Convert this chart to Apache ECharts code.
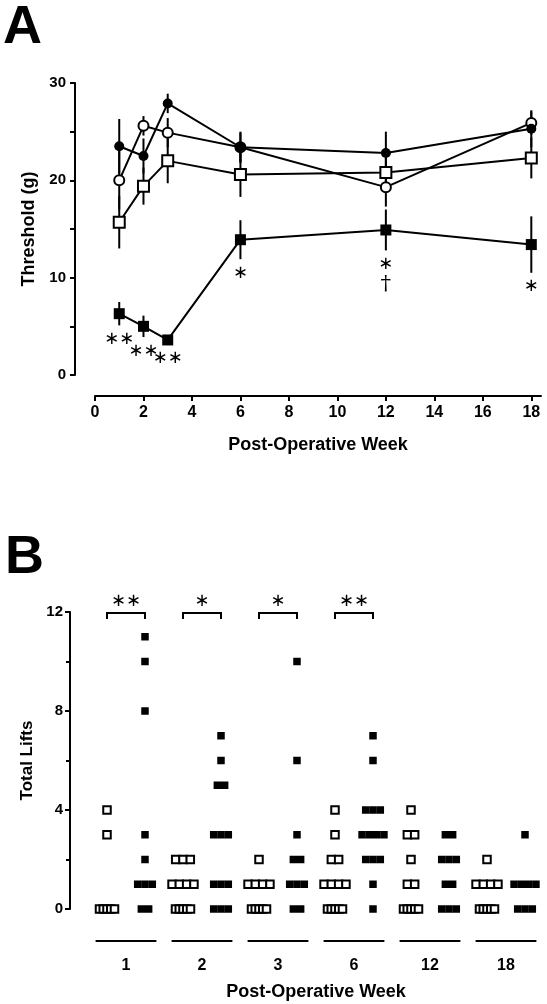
<!DOCTYPE html>
<html>
<head>
<meta charset="utf-8">
<script src="https://cdn.jsdelivr.net/npm/echarts@6/dist/echarts.min.js"></script>
<style>html,body{margin:0;padding:0;background:#fff}#c{width:547px;height:1004px}</style>
</head>
<body>
<div id="c"></div>
<script>
// ---------- Panel A data ----------
const weeks = [1, 2, 3, 6, 12, 18];
const xTicksA = [0, 2, 4, 6, 8, 10, 12, 14, 16, 18];
const circleFilledMean = [23.5, 22.5, 27.9, 23.4, 22.8, 25.3];
const circleFilledSem  = [2.8, 1.8, 1.0, 1.6, 2.2, 1.9];
const circleOpenMean   = [20.0, 25.6, 24.9, 23.4, 19.3, 25.9];
const circleOpenSem    = [3.0, 1.0, 1.5, 1.5, 2.0, 1.2];
const squareOpenMean   = [15.7, 19.4, 22.0, 20.6, 20.8, 22.3];
const squareOpenSem    = [2.7, 1.9, 2.3, 2.3, 1.5, 2.1];
const squareFilledMean = [6.3, 5.0, 3.6, 13.9, 14.9, 13.4];
const squareFilledSem  = [1.2, 1.1, 0.5, 2.0, 2.1, 2.9];
const sigStarsA  = ['**', '**', '**', '*', '*', '*'];
const sigDaggerA = ['', '', '', '', '\u2020', ''];

// ---------- Panel B data ----------
const weekLabelsB = ['1', '2', '3', '6', '12', '18'];
const openLifts = [
  [4, 3, 0, 0, 0, 0, 0],
  [2, 2, 2, 1, 1, 1, 1, 0, 0, 0, 0, 0],
  [2, 1, 1, 1, 1, 0, 0, 0, 0, 0],
  [4, 3, 2, 2, 1, 1, 1, 1, 0, 0, 0, 0, 0],
  [4, 3, 3, 2, 1, 1, 0, 0, 0, 0, 0],
  [2, 1, 1, 1, 1, 0, 0, 0, 0, 0]
];
const filledLifts = [
  [11, 10, 8, 3, 2, 1, 1, 1, 0, 0],
  [7, 6, 5, 5, 3, 3, 3, 1, 1, 1, 0, 0, 0],
  [10, 6, 3, 2, 2, 1, 1, 1, 0, 0],
  [7, 6, 4, 4, 4, 3, 3, 3, 3, 2, 2, 2, 1, 0],
  [3, 3, 2, 2, 2, 1, 1, 0, 0, 0],
  [3, 1, 1, 1, 1, 0, 0, 0]
];
const sigStarsB = ['**', '*', '*', '**', '', ''];

// ---------- layout helpers ----------
const FONT = "'Liberation Sans', Arial, sans-serif";
const BAND_PX = 76;          // pixel width of one week group in panel B
const COL_OFF = 0.25;        // open column left, filled column right of group centre

function spread(lists, side) {
  const pts = [];
  lists.forEach((vals, g) => {
    const counts = {};
    vals.forEach(v => { counts[v] = (counts[v] || 0) + 1; });
    Object.keys(counts).forEach(k => {
      const n = counts[k];
      const step = n <= 4 ? 7.3 : 15 / (n - 1);
      for (let j = 0; j < n; j++) {
        const offPx = (j - (n - 1) / 2) * step;
        pts.push([g + side * COL_OFF + offPx / BAND_PX, Number(k)]);
      }
    });
  });
  return pts;
}

const errData = [];
[[circleFilledMean, circleFilledSem], [circleOpenMean, circleOpenSem],
 [squareOpenMean, squareOpenSem], [squareFilledMean, squareFilledSem]].forEach(([m, s]) => {
  weeks.forEach((w, i) => errData.push([w, m[i], s[i]]));
});

const annA = weeks.map((w, i) => [w, squareFilledMean[i] - squareFilledSem[i], sigStarsA[i], sigDaggerA[i]]);
const bracketB = sigStarsB.map((s, g) => [g, 12, s]).filter(d => d[2]);

const black = '#000';
const STAR_FONT = "18px 'DejaVu Sans'";
const lineSeries = (mean, symbol, size, fill) => ({
  type: 'line', xAxisIndex: 0, yAxisIndex: 0,
  data: weeks.map((w, i) => [w, mean[i]]),
  symbol: symbol, symbolSize: size, showAllSymbol: true,
  itemStyle: { color: fill, borderColor: black, borderWidth: fill === black ? 0 : 2, opacity: 1 },
  lineStyle: { color: black, width: 2 },
  emphasis: { disabled: true }, z: 3
});

const chart = echarts.init(document.getElementById('c'));
chart.setOption({
  animation: false,
  textStyle: { fontFamily: FONT, color: black },
  graphic: [
    { type: 'text', left: 3, top: 1, style: { text: 'A', font: "bold 54px 'Liberation Sans', Arial", fill: black } },
    { type: 'text', left: 5, top: 531, style: { text: 'B', font: "bold 54px 'Liberation Sans', Arial", fill: black } }
  ],
  grid: [
    { left: 95, top: 83, width: 446, height: 292 },
    { left: 88, top: 612, width: 456, height: 297 }
  ],
  xAxis: [
    {
      gridIndex: 0, type: 'value', min: 0, max: 18.4, offset: 21,
      axisLine: { show: true, onZero: false, lineStyle: { color: black, width: 2 } },
      axisTick: { show: true, length: 5, lineStyle: { color: black, width: 2 }, customValues: xTicksA },
      axisLabel: { customValues: xTicksA, color: black, fontSize: 16, fontWeight: 'bold', margin: 9, fontFamily: FONT },
      splitLine: { show: false },
      name: 'Post-Operative Week', nameLocation: 'middle', nameGap: 40,
      nameTextStyle: { color: black, fontSize: 18, fontWeight: 'bold', fontFamily: FONT }
    },
    { gridIndex: 1, type: 'value', min: -0.5, max: 5.5, show: false, axisLine: { onZero: false } },
    {
      gridIndex: 1, type: 'category', data: weekLabelsB, boundaryGap: true, position: 'bottom',
      axisLine: { show: false, onZero: false }, axisTick: { show: false },
      axisLabel: { color: black, fontSize: 16, fontWeight: 'bold', margin: 49, fontFamily: FONT },
      splitLine: { show: false },
      name: 'Post-Operative Week', nameLocation: 'middle', nameGap: 74,
      nameTextStyle: { color: black, fontSize: 18, fontWeight: 'bold', fontFamily: FONT }
    }
  ],
  yAxis: [
    {
      gridIndex: 0, type: 'value', min: 0, max: 30, interval: 10, offset: 20,
      axisLine: { show: true, onZero: false, lineStyle: { color: black, width: 2 } },
      axisTick: { show: true, length: 5, lineStyle: { color: black, width: 2 } },
      minorTick: { show: true, splitNumber: 2, length: 5, lineStyle: { color: black, width: 2 } },
      axisLabel: { color: black, fontSize: 15, fontWeight: 'bold', margin: 9, fontFamily: FONT },
      splitLine: { show: false }, minorSplitLine: { show: false },
      name: 'Threshold (g)', nameLocation: 'middle', nameGap: 36, nameRotate: 90,
      nameTextStyle: { color: black, fontSize: 18, fontWeight: 'bold', fontFamily: FONT }
    },
    {
      gridIndex: 1, type: 'value', min: 0, max: 12, interval: 4, offset: 18,
      axisLine: { show: true, onZero: false, lineStyle: { color: black, width: 2 } },
      axisTick: { show: true, length: 5, lineStyle: { color: black, width: 2 } },
      minorTick: { show: true, splitNumber: 2, length: 4, lineStyle: { color: black, width: 2 } },
      axisLabel: { color: black, fontSize: 15, fontWeight: 'bold', margin: 7, fontFamily: FONT },
      splitLine: { show: false }, minorSplitLine: { show: false },
      name: 'Total Lifts', nameLocation: 'middle', nameGap: 34, nameRotate: 90,
      nameTextStyle: { color: black, fontSize: 17, fontWeight: 'bold', fontFamily: FONT }
    }
  ],
  series: [
    {
      type: 'custom', xAxisIndex: 0, yAxisIndex: 0, data: errData, z: 2, clip: false,
      renderItem: (params, api) => {
        const x = api.value(0), m = api.value(1), s = api.value(2);
        const p1 = api.coord([x, m - s]), p2 = api.coord([x, m + s]);
        return { type: 'line', shape: { x1: p1[0], y1: p1[1], x2: p2[0], y2: p2[1] },
                 style: { stroke: black, lineWidth: 2 } };
      }
    },
    lineSeries(circleOpenMean, 'circle', 10, '#fff'),
    lineSeries(squareOpenMean, 'rect', 11, '#fff'),
    lineSeries(circleFilledMean, 'circle', 10, black),
    lineSeries(squareFilledMean, 'rect', 11, black),
    {
      type: 'custom', xAxisIndex: 0, yAxisIndex: 0, data: annA, z: 5, clip: false,
      renderItem: (params, api) => {
        const p = api.coord([api.value(0), api.value(1)]);
        const d = annA[params.dataIndex];
        const children = [{ type: 'text', x: p[0], y: p[1] + 14,
          style: { text: d[2].replace(/\*/g, '\u2217'), font: STAR_FONT, fill: black, align: 'center', verticalAlign: 'middle' } }];
        if (d[3]) children.push({ type: 'text', x: p[0], y: p[1] + 34,
          style: { text: d[3], font: "21px 'DejaVu Serif'", fill: black, align: 'center', verticalAlign: 'middle' } });
        return { type: 'group', children: children };
      }
    },
    // ---------- Panel B ----------
    {
      type: 'scatter', xAxisIndex: 1, yAxisIndex: 1, data: spread(openLifts, -1), clip: false,
      symbol: 'rect', symbolSize: 7.5,
      itemStyle: { color: '#fff', borderColor: black, borderWidth: 2, opacity: 1 }, emphasis: { disabled: true }
    },
    {
      type: 'scatter', xAxisIndex: 1, yAxisIndex: 1, data: spread(filledLifts, 1), clip: false,
      symbol: 'rect', symbolSize: 7.5,
      itemStyle: { color: black, opacity: 1 }, emphasis: { disabled: true }
    },
    {
      type: 'custom', xAxisIndex: 1, yAxisIndex: 1, clip: false,
      data: weekLabelsB.map((l, g) => [g, 0]),
      renderItem: (params, api) => {
        const g = api.value(0);
        const a = api.coord([g - 0.4, 0]), b = api.coord([g + 0.4, 0]);
        return { type: 'line', shape: { x1: a[0], y1: a[1] + 32, x2: b[0], y2: b[1] + 32 },
                 style: { stroke: black, lineWidth: 2 } };
      }
    },
    {
      type: 'custom', xAxisIndex: 1, yAxisIndex: 1, clip: false,
      data: bracketB,
      renderItem: (params, api) => {
        const g = api.value(0);
        const d = bracketB[params.dataIndex];
        const a = api.coord([g - COL_OFF, 12]), b = api.coord([g + COL_OFF, 12]);
        const y = a[1] + 1;
        return { type: 'group', children: [
          { type: 'polyline', shape: { points: [[a[0], y + 6], [a[0], y], [b[0], y], [b[0], y + 6]] },
            style: { stroke: black, lineWidth: 2, fill: null } },
          { type: 'text', x: (a[0] + b[0]) / 2, y: y - 12,
            style: { text: d[2].replace(/\*/g, '\u2217'), font: STAR_FONT, fill: black, align: 'center', verticalAlign: 'middle' } }
        ] };
      }
    }
  ]
});
</script>
</body>
</html>
